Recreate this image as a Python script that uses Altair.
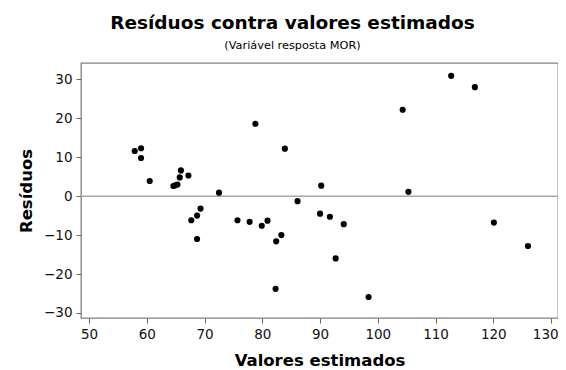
import altair as alt
import pandas as pd

fitted = [57.9, 59.0, 59.0, 60.5, 64.6, 64.9, 65.3, 65.7, 65.9, 67.2,
          67.7, 68.7, 69.3, 68.7, 72.5, 75.7, 77.8, 78.8, 79.9, 80.9,
          82.4, 83.3, 83.9, 82.3, 86.1, 90.2, 90.0, 91.7, 94.1, 92.7,
          98.4, 104.3, 105.3, 112.7, 116.8, 120.1, 126.0]
residuals = [11.6, 12.3, 9.8, 3.9, 2.6, 2.8, 3.0, 4.8, 6.6, 5.3,
             -6.2, -5.0, -3.2, -11.0, 0.9, -6.2, -6.6, 18.6, -7.6, -6.3,
             -11.6, -10.0, 12.2, -23.8, -1.3, 2.7, -4.5, -5.3, -7.2, -16.0,
             -25.9, 22.2, 1.1, 30.9, 28.0, -6.8, -12.8]
x_ticks = [50, 60, 70, 80, 90, 100, 110, 120, 130]
y_ticks = [-30, -20, -10, 0, 10, 20, 30]

df = pd.DataFrame({"x": fitted, "y": residuals})
ref = pd.DataFrame({"y": [0]})

FONT = "DejaVu Sans"

xscale = alt.Scale(domain=[48.6, 131.2], nice=False, zero=False)
yscale = alt.Scale(domain=[-31.3, 34.2], nice=False, zero=False)

axis_common = dict(grid=False, domain=False, tickColor="#666666", tickSize=5,
                   labelFontSize=13.5, labelColor="#111111", labelFont=FONT,
                   labelPadding=4, titleFont=FONT, titleFontSize=16.5,
                   titleFontWeight="bold", titleColor="black")

points = alt.Chart(df).mark_circle(size=38, color="black", opacity=1).encode(
    x=alt.X("x:Q", scale=xscale, title="Valores estimados",
            axis=alt.Axis(values=x_ticks, titlePadding=12, labelFlush=7.5,
                          labelFlushOffset=7, **axis_common)),
    y=alt.Y("y:Q", scale=yscale, title="Resíduos",
            axis=alt.Axis(values=y_ticks, titlePadding=9, **axis_common)),
)

rule = alt.Chart(ref).mark_rule(color="#a8a8a8", strokeWidth=1.5).encode(y="y:Q")

chart = alt.layer(rule, points).properties(
    width=477,
    height=255,
    autosize=alt.AutoSizeParams(type="none"),
    padding={"left": 73, "top": 55, "right": 0, "bottom": 52},
    title=alt.TitleParams(
        text="Resíduos contra valores estimados",
        subtitle="(Variável resposta MOR)",
        font=FONT, fontSize=18.5, fontWeight="bold", color="black",
        subtitleFont=FONT, subtitleFontSize=11.3, subtitleColor="black",
        subtitlePadding=7, anchor="middle", offset=12, dx=-27,
    ),
).configure_view(stroke="#808080", strokeWidth=1.3)

chart.save("out.html", embed_options={"renderer": "svg", "actions": False})
